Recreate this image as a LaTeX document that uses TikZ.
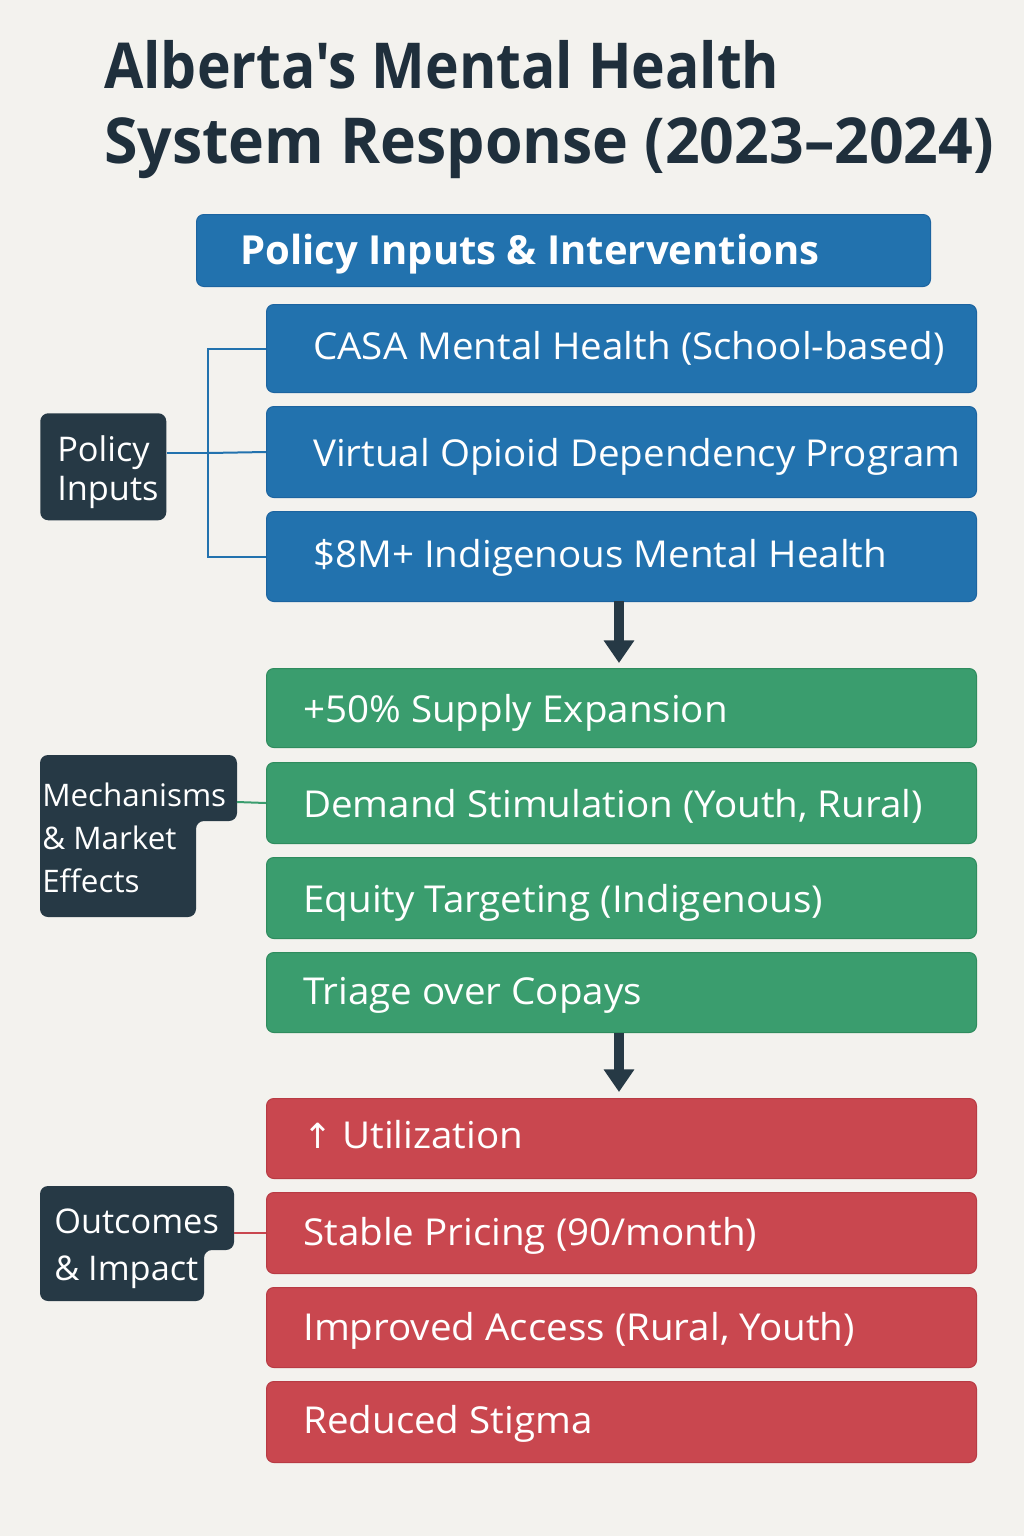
\documentclass[tikz,border=0pt]{standalone}
\usepackage{fontspec}
\setmainfont{Open Sans}
\newfontfamily\symfont{DejaVu Sans}
\newfontfamily\titlefont[FakeStretch=0.90]{Open Sans}
\newfontfamily\titlefontb[FakeStretch=0.96]{Open Sans}
\newfontfamily\boxfont[FakeStretch=1.04]{Open Sans}
\newfontfamily\labelfont[FakeStretch=1.01]{Open Sans}
\usetikzlibrary{arrows.meta}
\definecolor{bgc}{HTML}{F3F2EE}
\definecolor{titlec}{HTML}{1F2F3C}
\definecolor{bluec}{HTML}{2272AE}
\definecolor{blueb}{HTML}{1C64A0}
\definecolor{greenc}{HTML}{3A9D6E}
\definecolor{greenb}{HTML}{2F8C5E}
\definecolor{redc}{HTML}{C9474F}
\definecolor{redb}{HTML}{B83B44}
\definecolor{darkc}{HTML}{263945}
\tikzset{
  boxbase/.style={rectangle, rounded corners=5.5pt, line width=0.75pt, inner sep=0pt,
    minimum width={710*0.75pt}, anchor=north west},
  bluebox/.style={boxbase, fill=bluec, draw=blueb},
  greenbox/.style={boxbase, fill=greenc, draw=greenb},
  redbox/.style={boxbase, fill=redc, draw=redb},
  boxtext/.style={anchor=base west, inner sep=0pt, text=white, font=\boxfont\fontsize{27.8}{33}\selectfont},
  labeltext/.style={anchor=base west, inner sep=0pt, text=white, font=\labelfont\fontsize{25.5}{30}\selectfont},
  titletext/.style={anchor=base west, inner sep=0pt, text=titlec, font=\titlefont\fontsize{47.5}{56}\selectfont\bfseries},
  flowarrow/.style={draw=darkc, line width=7.5pt, -{Triangle[width=22pt,length=17pt]}},
  linkline/.style={line width=1.5pt}
}
\begin{document}
\begin{tikzpicture}[x=0.75pt,y=-0.75pt]
\fill[bgc] (0,0) rectangle (1024,1536);
\useasboundingbox (0,0) rectangle (1024,1536);

% title
\node[titletext] (t1) at (104,88) {Alberta{\char"27}s Mental Health};
\node[titletext, font=\titlefontb\fontsize{47.5}{56}\selectfont\bfseries] (t2) at (104,163) {System Response (2023–2024)};

% header
\node[rectangle, rounded corners=5.5pt, fill=bluec, draw=blueb, line width=0.75pt, anchor=north west,
  minimum width={734*0.75pt}, minimum height={72*0.75pt}] (hdr) at (196,214) {};
\node[anchor=base west, inner sep=0pt, text=white, font=\fontsize{30}{36}\selectfont\bfseries] (hdrt) at (240,264) {Policy Inputs \& Interventions};

% blue boxes
\node[bluebox, minimum height={88*0.75pt}] (b1) at (266,304) {};
\node[bluebox, minimum height={91*0.75pt}] (b2) at (266,406) {};
\node[bluebox, minimum height={90*0.75pt}] (b3) at (266,511) {};
\node[boxtext] (b1t) at (313,359) {CASA Mental Health (School-based)};
\node[boxtext] (b2t) at (313,466) {Virtual Opioid Dependency Program};
\node[boxtext] (b3t) at (313,567) {\$8M+ Indigenous Mental Health};

% policy label
\node[rectangle, rounded corners=6pt, fill=darkc, anchor=north west, inner sep=0pt,
  minimum width={126*0.75pt}, minimum height={107*0.75pt}] (pl) at (40,413) {};
\node[labeltext] (pl1) at (57,461) {Policy};
\node[labeltext] (pl2) at (57,500) {Inputs};
\coordinate (pj) at (208,453);
\draw[linkline, bluec] (pl.east |- pj) -- (pj);
\draw[linkline, bluec] (b1.west) -| (pj) |- (b3.west);
\draw[linkline, bluec] (pj) -- (b2.west);

% arrow 1
\draw[flowarrow] (619,601) -- (619,663);

% green boxes
\node[greenbox, minimum height={79*0.75pt}] (g1) at (266,668) {};
\node[greenbox, minimum height={81*0.75pt}] (g2) at (266,762) {};
\node[greenbox, minimum height={81*0.75pt}] (g3) at (266,857) {};
\node[greenbox, minimum height={80*0.75pt}] (g4) at (266,952) {};
\node[boxtext] (g1t) at (303,722) {+50\% Supply Expansion};
\node[boxtext] (g2t) at (303,817) {Demand Stimulation (Youth, Rural)};
\node[boxtext] (g3t) at (303,912) {Equity Targeting (Indigenous)};
\node[boxtext] (g4t) at (303,1004) {Triage over Copays};

% mechanisms label
\fill[darkc, rounded corners=6pt] (40,755) -- (237,755) -- (237,821) -- (196,821) -- (196,917) -- (40,917) -- cycle;
\coordinate (ml) at (237,802);
\node[labeltext, font=\labelfont\fontsize{23.3}{28}\selectfont] (m1) at (42,806) {Mechanisms};
\node[labeltext, font=\labelfont\fontsize{23.3}{28}\selectfont] (m2) at (42,849) {\& Market};
\node[labeltext, font=\labelfont\fontsize{23.3}{28}\selectfont] (m3) at (42,892) {Effects};
\draw[linkline, greenc] (ml) -- (g2.west);

% arrow 2
\draw[flowarrow] (619,1033) -- (619,1092);

% red boxes
\node[redbox, minimum height={80*0.75pt}] (r1) at (266,1098) {};
\node[redbox, minimum height={81*0.75pt}] (r2) at (266,1192) {};
\node[redbox, minimum height={80*0.75pt}] (r3) at (266,1287) {};
\node[redbox, minimum height={81*0.75pt}] (r4) at (266,1381) {};
\node[boxtext] (r1t) at (303,1148) {{\symfont\fontsize{26}{31}\selectfont ↑} Utilization};
\node[boxtext] (r2t) at (303,1245) {Stable Pricing (90/month)};
\node[boxtext] (r3t) at (303,1340) {Improved Access (Rural, Youth)};
\node[boxtext] (r4t) at (303,1433) {Reduced Stigma};

% outcomes label
\fill[darkc, rounded corners=6pt] (40,1186) -- (234,1186) -- (234,1250) -- (204,1250) -- (204,1301) -- (40,1301) -- cycle;
\coordinate (ol) at (234,1233);
\node[labeltext] (o1) at (54,1233) {Outcomes};
\node[labeltext] (o2) at (54,1280) {\& Impact};
\draw[linkline, redc] (ol) -- (r2.west);
\end{tikzpicture}
\end{document}
